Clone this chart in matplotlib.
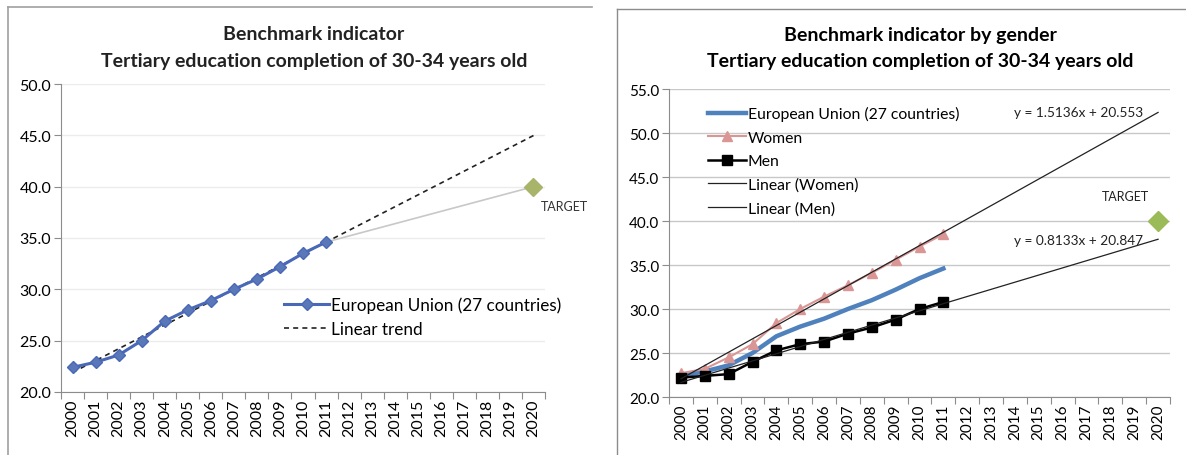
import numpy as np
import matplotlib
matplotlib.use("Agg")
import matplotlib.pyplot as plt
from matplotlib.lines import Line2D

plt.rcParams["font.family"] = ["Lato", "DejaVu Sans"]

years = list(range(2000, 2012))
all_years = list(range(2000, 2021))

eu = [22.4, 22.9, 23.6, 25.0, 26.9, 28.0, 28.9, 30.0, 31.0, 32.2, 33.5, 34.6]
women = [22.7, 23.2, 24.5, 26.0, 28.4, 30.0, 31.4, 32.7, 34.1, 35.6, 37.1, 38.5]
men = [22.2, 22.4, 22.6, 24.0, 25.3, 26.0, 26.3, 27.2, 27.9, 28.8, 30.0, 30.8]

target_year = 2020
target_value = 40.0

# trendline coefficients as printed on the right chart (x = 1 for 2000)
women_slope, women_icpt = 1.5136, 20.553
men_slope, men_icpt = 0.8133, 20.847

W, H = 1186, 456
fig = plt.figure(figsize=(W / 100, H / 100), dpi=100)

# panel frames (top and left edges only)
fig.add_artist(Line2D([8 / W, 592 / W], [1 - 8 / H, 1 - 8 / H], transform=fig.transFigure,
                      color="#a0a0a0", lw=1.2))
fig.add_artist(Line2D([8 / W, 8 / W], [0, 1 - 8 / H], transform=fig.transFigure,
                      color="#a0a0a0", lw=1.2))
fig.add_artist(Line2D([617 / W, 1], [1 - 10 / H, 1 - 10 / H], transform=fig.transFigure,
                      color="#8c8c8c", lw=1.0))
fig.add_artist(Line2D([617 / W, 617 / W], [0, 1 - 10 / H], transform=fig.transFigure,
                      color="#8c8c8c", lw=1.0))


def style_axis(ax, ymax, grid_color, ysize, xsize):
    ax.set_xlim(1999.5, 2020.5)
    ax.set_ylim(20, ymax)
    ticks = np.arange(20, ymax + 0.1, 5)
    ax.set_yticks(ticks)
    ax.set_yticklabels([f"{v:.1f}" for v in ticks], fontsize=ysize)
    ax.set_xticks([y - 0.5 for y in all_years] + [2020.5])
    ax.set_xticklabels([])
    ax.set_xticks(all_years, minor=True)
    ax.set_xticklabels([str(y) for y in all_years], minor=True, rotation=90, fontsize=xsize)
    ax.tick_params(axis="x", which="minor", length=0, pad=5)
    ax.tick_params(axis="x", which="major", length=5, color="#8c8c8c")
    ax.tick_params(axis="y", length=5, color="#8c8c8c", pad=2)
    ax.grid(axis="y", color=grid_color, lw=1)
    ax.set_axisbelow(True)
    for s in ["top", "right"]:
        ax.spines[s].set_visible(False)
    for s in ["left", "bottom"]:
        ax.spines[s].set_color("#8c8c8c")


# ---- left chart ----
ax1 = fig.add_axes([61 / W, 1 - 393 / H, (545 - 61) / W, (393 - 85) / H])
style_axis(ax1, 50, "#ececec", 11.5, 11.5)

fit = np.polyfit(years, eu, 1)
ax1.plot(all_years, np.polyval(fit, all_years), color="#222222", ls=(0, (3, 2.5)),
         lw=1.2, label="Linear trend", zorder=2)
ax1.plot([years[-1], target_year], [eu[-1], target_value], color="#c8c8c8", lw=1.2, zorder=2)
ax1.plot(years, eu, color="#4a68b8", lw=2.2, marker="D", ms=6.5, mfc="#5a78b8",
         mec="#4a68b8", label="European Union (27 countries)", zorder=3)
ax1.plot([target_year], [target_value], marker="D", ms=9, color="#a8b46a", ls="none", zorder=4)
ax1.text(2020.3, 38.1, "TARGET", fontsize=9, color="#333333", clip_on=False,
         va="center", ha="left")
h, l = ax1.get_legend_handles_labels()
ax1.legend(h[::-1], l[::-1], loc="upper left", bbox_to_anchor=(0.43, 0.36), frameon=False,
           fontsize=12.3, handlelength=2.6, handletextpad=0.15, labelspacing=0.45)
fig.text(314 / W, 1 - 35 / H, "Benchmark indicator", ha="center", va="center",
         fontsize=14, fontweight="bold", color="#222222")
fig.text(314 / W, 1 - 62 / H, "Tertiary education completion of 30-34 years old",
         ha="center", va="center", fontsize=14, fontweight="bold", color="#222222")

# ---- right chart ----
ax2 = fig.add_axes([669 / W, 1 - 398 / H, (1170 - 669) / W, (398 - 90) / H])
style_axis(ax2, 55, "#c8c8c8", 11, 11)

idx = np.arange(1, len(all_years) + 1)
ax2.plot(years, eu, color="#4f81bd", lw=3.2, label="European Union (27 countries)", zorder=3)
ax2.plot(years, women, color="#d99694", lw=1.5, marker="^", ms=7,
         label="Women", zorder=3)
ax2.plot(years, men, color="black", lw=1.8, marker="s", ms=7, label="Men", zorder=3)
ax2.plot(all_years, women_slope * idx + women_icpt, color="#222222", lw=0.9,
         label="Linear (Women)", zorder=4)
ax2.plot(all_years, men_slope * idx + men_icpt, color="#222222", lw=0.9,
         label="Linear (Men)", zorder=4)
ax2.plot([target_year], [target_value], marker="D", ms=10, color="#9bbb59", ls="none", zorder=5)
ax2.text(2018.65, 42.8, "TARGET", fontsize=9, color="#222222", ha="center", va="center")
ax2.text(2019.36, 52.35, "y = 1.5136x + 20.553", fontsize=9.8, color="#222222",
         ha="right", va="center")
ax2.text(2019.36, 37.8, "y = 0.8133x + 20.847", fontsize=9.8, color="#222222",
         ha="right", va="center")
ax2.legend(loc="upper left", bbox_to_anchor=(0.05, 0.99), frameon=False, fontsize=11.3,
           handlelength=2.4, handletextpad=0.12, labelspacing=0.6)
fig.text(920 / W, 1 - 35 / H, "Benchmark indicator by gender", ha="center",
         va="center", fontsize=14, fontweight="bold", color="black")
fig.text(920 / W, 1 - 62 / H, "Tertiary education completion of 30-34 years old",
         ha="center", va="center", fontsize=14, fontweight="bold", color="black")

fig.savefig("out.png", dpi=100)
